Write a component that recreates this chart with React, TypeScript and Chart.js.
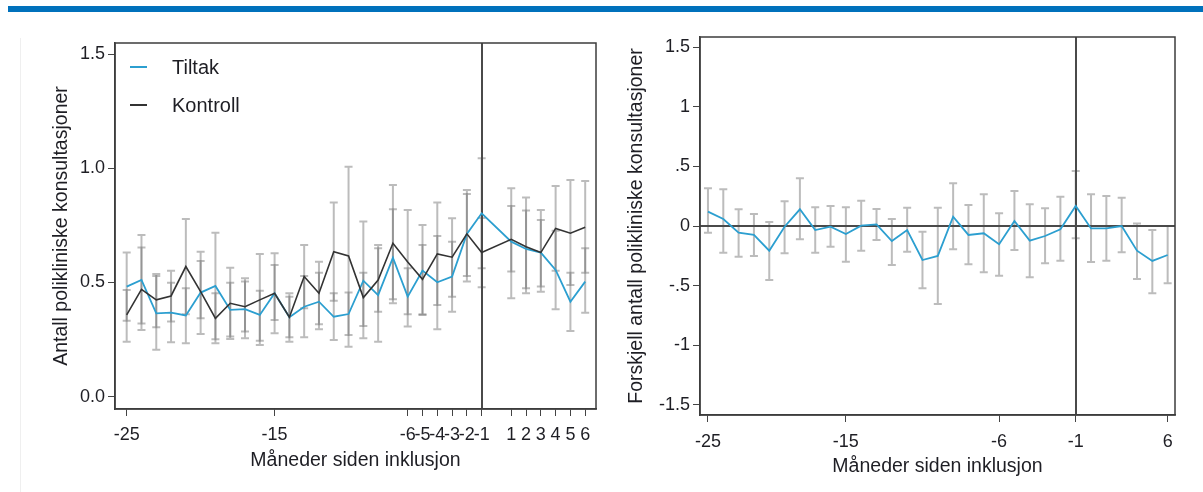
import React, { useEffect, useRef } from 'react';
import { Chart, registerables } from 'chart.js';
Chart.register(...registerables);

// ---------- DATA ----------
const months = [-25, -24, -23, -22, -21, -20, -19, -18, -17, -16, -15, -14, -13, -12, -11, -10, -9, -8, -7, -6, -5, -4, -3, -2, -1, 1, 2, 3, 4, 5, 6];

const tiltak = [0.482, 0.511, 0.365, 0.368, 0.356, 0.456, 0.485, 0.380, 0.383, 0.358, 0.453, 0.348, 0.394, 0.416, 0.350, 0.362, 0.508, 0.445, 0.609, 0.438, 0.552, 0.501, 0.526, 0.713, 0.803, 0.679, 0.647, 0.631, 0.555, 0.416, 0.504];
const tiltakLow = [0.333, 0.321, 0.205, 0.238, 0.234, 0.275, 0.251, 0.263, 0.256, 0.245, 0.278, 0.241, 0.260, 0.295, 0.248, 0.270, 0.256, 0.241, 0.409, 0.307, 0.358, 0.295, 0.372, 0.504, 0.562, 0.431, 0.453, 0.460, 0.383, 0.288, 0.368];
const tiltakHigh = [0.631, 0.708, 0.529, 0.499, 0.475, 0.635, 0.718, 0.499, 0.504, 0.464, 0.628, 0.453, 0.529, 0.543, 0.453, 0.456, 0.767, 0.650, 0.821, 0.562, 0.752, 0.704, 0.679, 0.905, 1.044, 0.913, 0.872, 0.818, 0.727, 0.543, 0.650];

const kontroll = [0.358, 0.470, 0.424, 0.441, 0.570, 0.460, 0.343, 0.409, 0.394, 0.424, 0.453, 0.348, 0.526, 0.453, 0.635, 0.616, 0.434, 0.511, 0.672, 0.590, 0.514, 0.625, 0.611, 0.713, 0.631, 0.689, 0.657, 0.631, 0.737, 0.716, 0.742];
const kontrollLow = [0.241, 0.292, 0.304, 0.329, 0.361, 0.343, 0.234, 0.253, 0.285, 0.226, 0.336, 0.260, 0.387, 0.317, 0.420, 0.219, 0.310, 0.372, 0.427, 0.361, 0.361, 0.402, 0.438, 0.529, 0.479, 0.548, 0.475, 0.482, 0.552, 0.489, 0.543];
const kontrollHigh = [0.467, 0.653, 0.537, 0.552, 0.778, 0.594, 0.453, 0.565, 0.519, 0.625, 0.577, 0.438, 0.664, 0.591, 0.850, 1.007, 0.543, 0.664, 0.927, 0.818, 0.664, 0.850, 0.781, 0.888, 0.783, 0.835, 0.815, 0.774, 0.923, 0.949, 0.945];

const forskjell = [0.120, 0.059, -0.056, -0.075, -0.207, -0.006, 0.140, -0.034, -0.006, -0.067, 0.003, 0.014, -0.126, -0.034, -0.285, -0.251, 0.078, -0.075, -0.061, -0.153, 0.042, -0.123, -0.084, -0.028, 0.168, -0.020, -0.020, 0.000, -0.207, -0.293, -0.243];
const forskjellLow = [-0.056, -0.224, -0.257, -0.251, -0.453, -0.229, -0.112, -0.224, -0.173, -0.299, -0.207, -0.117, -0.327, -0.215, -0.522, -0.654, -0.195, -0.321, -0.388, -0.416, -0.201, -0.430, -0.313, -0.291, -0.103, -0.302, -0.291, -0.221, -0.444, -0.564, -0.480];
const forskjellHigh = [0.316, 0.307, 0.140, 0.101, 0.034, 0.207, 0.400, 0.157, 0.168, 0.157, 0.212, 0.142, 0.059, 0.154, -0.048, 0.154, 0.358, 0.176, 0.266, 0.106, 0.293, 0.182, 0.148, 0.246, 0.461, 0.266, 0.251, 0.237, 0.022, -0.034, 0.000];

const leftXTicks = [-25, -15, -6, -5, -4, -3, -2, -1, 1, 2, 3, 4, 5, 6];
const leftYTicks = [0, 0.5, 1, 1.5];
const leftYTickLabels = ['0.0', '0.5', '1.0', '1.5'];
const rightXTickIndex = [0, 9, 19, 24, 30];
const rightXTickLabels = ['-25', '-15', '-6', '-1', '6'];
const rightYTicks = [-1.5, -1, -0.5, 0, 0.5, 1, 1.5];
const rightYTickLabels = ['-1.5', '-1', '-.5', '0', '.5', '1', '1.5'];

const labelTiltak = 'Tiltak';
const labelKontroll = 'Kontroll';
const xTitle = 'Måneder siden inklusjon';
const yTitleLeft = 'Antall polikliniske konsultasjoner';
const yTitleRight = 'Forskjell antall polikliniske konsultasjoner';

// ---------- STYLE ----------
const FONT = "'Liberation Sans', Arial, sans-serif";
const BLUE = '#2c9fd0';
const DARK = '#333333';
const TEXT = '#1e1e24';
const CI = 'rgba(95,95,95,0.42)';

const errorBarPlugin = {
  id: 'errbars',
  beforeDatasetsDraw(chart: any, _a: any, opts: any) {
    const { ctx, scales } = chart;
    const x = scales.x, y = scales.y;
    const cap = 4;
    (opts.series || []).forEach((s: any) => {
      ctx.save();
      ctx.strokeStyle = s.color;
      ctx.lineWidth = s.width;
      s.xs.forEach((xv: number, i: number) => {
        const px = x.getPixelForValue(xv);
        const p1 = y.getPixelForValue(s.low[i]);
        const p2 = y.getPixelForValue(s.high[i]);
        ctx.beginPath();
        ctx.moveTo(px, p1); ctx.lineTo(px, p2);
        ctx.moveTo(px - cap, p1); ctx.lineTo(px + cap, p1);
        ctx.moveTo(px - cap, p2); ctx.lineTo(px + cap, p2);
        ctx.stroke();
      });
      ctx.restore();
    });
  },
};

const refPlugin = {
  id: 'reflines',
  beforeDatasetsDraw(chart: any, _a: any, opts: any) {
    const { ctx, chartArea: a, scales } = chart;
    ctx.save();
    ctx.strokeStyle = '#4a4a4a';
    ctx.lineWidth = 2;
    if (opts.xLine !== undefined) {
      const px = Math.round(scales.x.getPixelForValue(opts.xLine));
      ctx.beginPath(); ctx.moveTo(px, a.top); ctx.lineTo(px, a.bottom); ctx.stroke();
    }
    if (opts.yLine !== undefined) {
      const py = Math.round(scales.y.getPixelForValue(opts.yLine));
      ctx.beginPath(); ctx.moveTo(a.left, py); ctx.lineTo(a.right, py); ctx.stroke();
    }
    ctx.restore();
  },
  afterDraw(chart: any) {
    const { ctx, chartArea: a } = chart;
    ctx.save();
    ctx.strokeStyle = '#3c3c3c';
    ctx.lineWidth = 1.5;
    ctx.strokeRect(a.left, a.top, a.right - a.left, a.bottom - a.top);
    ctx.restore();
  },
};

function fixedTicks(values: number[]) {
  return (scale: any) => { scale.ticks = values.map((v) => ({ value: v })); };
}

function axisCommon() {
  return {
    grid: { drawOnChartArea: false, drawTicks: true, tickLength: 7, tickColor: '#444', tickWidth: 1 },
    border: { display: true, color: '#3c3c3c', width: 1.5 },
  };
}

function LeftChart() {
  const ref = useRef<HTMLCanvasElement>(null);
  useEffect(() => {
    const chart = new Chart(ref.current as HTMLCanvasElement, {
      type: 'line',
      data: {
        datasets: [
          { label: labelKontroll, data: months.map((m, i) => ({ x: m, y: kontroll[i] })), borderColor: DARK, borderWidth: 1.6, pointRadius: 0, tension: 0 },
          { label: labelTiltak, data: months.map((m, i) => ({ x: m, y: tiltak[i] })), borderColor: BLUE, borderWidth: 1.8, pointRadius: 0, tension: 0 },
        ],
      },
      options: {
        responsive: false,
        animation: false,
        events: [],
        layout: { padding: { top: 43, right: 8, left: 0, bottom: 0 } },
        plugins: {
          legend: { display: false },
          tooltip: { enabled: false },
          errbars: {
            series: [
              { xs: months, low: kontrollLow, high: kontrollHigh, color: CI, width: 2 },
              { xs: months, low: tiltakLow, high: tiltakHigh, color: CI, width: 2 },
            ],
          },
          reflines: { xLine: -1 },
        } as any,
        scales: {
          x: {
            type: 'linear',
            min: -25.79,
            max: 6.73,
            ...axisCommon(),
            afterBuildTicks: fixedTicks(leftXTicks),
            afterFit: (s: any) => { s.height = 83; },
            ticks: { autoSkip: false, maxRotation: 0, padding: 8, color: TEXT, font: { family: FONT, size: 18 }, callback: (v: any) => String(v) },
            title: { display: true, text: xTitle, color: TEXT, font: { family: FONT, size: 19.5 }, padding: { top: 0, bottom: 20 } },
          },
          y: {
            type: 'linear',
            min: -0.054,
            max: 1.549,
            ...axisCommon(),
            afterBuildTicks: fixedTicks(leftYTicks),
            afterFit: (s: any) => { s.width = 115; },
            ticks: { padding: 3, color: TEXT, font: { family: FONT, size: 18 }, callback: (v: any) => leftYTickLabels[leftYTicks.indexOf(v)] ?? '' },
            title: { display: true, text: yTitleLeft, color: TEXT, font: { family: FONT, size: 19.5 }, padding: { top: 50, bottom: 0 } },
          },
        },
      } as any,
      plugins: [errorBarPlugin, refPlugin] as any,
    });
    return () => chart.destroy();
  }, []);
  return <canvas ref={ref} width={604} height={492} style={{ position: 'absolute', left: 0, top: 0, width: 604, height: 492 }} />;
}

function RightChart() {
  const ref = useRef<HTMLCanvasElement>(null);
  useEffect(() => {
    const idx = forskjell.map((_, i) => i);
    const chart = new Chart(ref.current as HTMLCanvasElement, {
      type: 'line',
      data: {
        datasets: [
          { label: 'Forskjell', data: forskjell.map((v, i) => ({ x: idx[i], y: v })), borderColor: BLUE, borderWidth: 1.8, pointRadius: 0, tension: 0 },
        ],
      },
      options: {
        responsive: false,
        animation: false,
        events: [],
        layout: { padding: { top: 37, right: 28, left: 0, bottom: 0 } },
        plugins: {
          legend: { display: false },
          tooltip: { enabled: false },
          errbars: { series: [{ xs: idx, low: forskjellLow, high: forskjellHigh, color: CI, width: 2 }] },
          reflines: { xLine: 24, yLine: 0 },
        } as any,
        scales: {
          x: {
            type: 'linear',
            min: -0.52,
            max: 30.48,
            ...axisCommon(),
            afterBuildTicks: fixedTicks(rightXTickIndex),
            afterFit: (s: any) => { s.height = 77; },
            ticks: { autoSkip: false, maxRotation: 0, padding: 9, color: TEXT, font: { family: FONT, size: 18 }, callback: (v: any) => rightXTickLabels[rightXTickIndex.indexOf(v)] ?? '' },
            title: { display: true, text: xTitle, color: TEXT, font: { family: FONT, size: 19.5 }, padding: { top: 0, bottom: 14 } },
          },
          y: {
            type: 'linear',
            min: -1.584,
            max: 1.584,
            ...axisCommon(),
            afterBuildTicks: fixedTicks(rightYTicks),
            afterFit: (s: any) => { s.width = 90; },
            ticks: { padding: 3, color: TEXT, font: { family: FONT, size: 18 }, callback: (v: any) => rightYTickLabels[rightYTicks.indexOf(v)] ?? '' },
            title: { display: true, text: yTitleRight, color: TEXT, font: { family: FONT, size: 19.5 }, padding: { top: 15, bottom: 0 } },
          },
        },
      } as any,
      plugins: [errorBarPlugin, refPlugin] as any,
    });
    return () => chart.destroy();
  }, []);
  return <canvas ref={ref} width={593} height={492} style={{ position: 'absolute', left: 610, top: 0, width: 593, height: 492 }} />;
}

export default function App() {
  const legendText: React.CSSProperties = { position: 'absolute', left: 172, fontFamily: FONT, fontSize: 20, color: TEXT, lineHeight: '24px' };
  return (
    <div style={{ position: 'absolute', left: 0, top: 0, width: 1203, height: 492, background: '#fff', overflow: 'hidden' }}>
      <div style={{ position: 'absolute', left: 8, right: 0, top: 6, height: 6, background: '#0071bc' }} />
      <div style={{ position: 'absolute', left: 20, top: 38, bottom: 0, width: 1, background: '#efefef' }} />
      <LeftChart />
      <RightChart />
      <div style={{ position: 'absolute', left: 130, top: 66, width: 17, height: 2, background: BLUE }} />
      <div style={{ ...legendText, top: 55 }}>{labelTiltak}</div>
      <div style={{ position: 'absolute', left: 130, top: 104, width: 17, height: 2, background: DARK }} />
      <div style={{ ...legendText, top: 93 }}>{labelKontroll}</div>
    </div>
  );
}
